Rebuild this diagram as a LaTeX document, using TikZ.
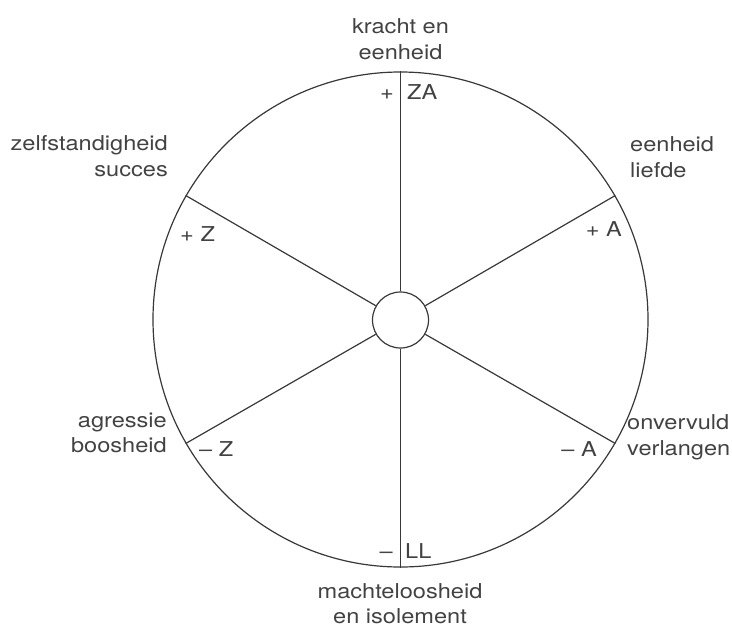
\documentclass[tikz,border=0pt]{standalone}
\usepackage{fontspec}
\setmainfont{TeX Gyre Heros}[FakeStretch=1.15]
\begin{document}
\begin{tikzpicture}[x=1pt,y=-1pt,
  ln/.style={draw=black!78, line width=1.2pt},
  lbl/.style={text=black!74, inner sep=0pt, font=\fontsize{20.5}{25.5}\selectfont},
  big/.style={lbl, align=center},
]
\useasboundingbox (0,0) rectangle (732,630);
\node[circle, ln, minimum size=495pt, inner sep=0pt] (outer) at (400.5,319.5) {};
\node[circle, ln, minimum size=56pt, inner sep=0pt] (hub) at (400.5,320) {};
\foreach \a in {90,30,-30,-90,210,150}{
  \draw[ln] (hub.\a) -- (outer.\a);
}
% outer labels
\node[big, anchor=center] (kracht) at (400.5,39.2) {kracht en\\eenheid};
\node[lbl, anchor=base east, align=right] (zelf) at (168,176) {zelfstandigheid\\succes};
\node[lbl, anchor=base west, align=left] (liefde) at (630,177.3) {eenheid\\liefde};
\node[lbl, anchor=base east, align=right] (agr) at (167,452.7) {agressie\\boosheid};
\node[lbl, anchor=base west, align=left] (onv) at (627,455) {onvervuld\\verlangen};
\node[big, anchor=center] (macht) at (400,603.5) {machteloosheid\\en isolement};
% inner labels
\node[lbl, anchor=base east] (pza) at (394,99) {+};
\node[lbl, anchor=base west] (za) at (407,99) {ZA};
\node[lbl, anchor=base east] (mll) at (393,558.3) {–};
\node[lbl, anchor=base west] (ll) at (405,558.3) {LL};
\node[lbl, anchor=base west] (pz) at (180,241.7) {+ Z};
\node[lbl, anchor=base east] (pa) at (622,236) {+ A};
\node[lbl, anchor=base west] (mz) at (199,456) {– Z};
\node[lbl, anchor=base east] (ma) at (597,456.7) {– A};
\end{tikzpicture}
\end{document}
